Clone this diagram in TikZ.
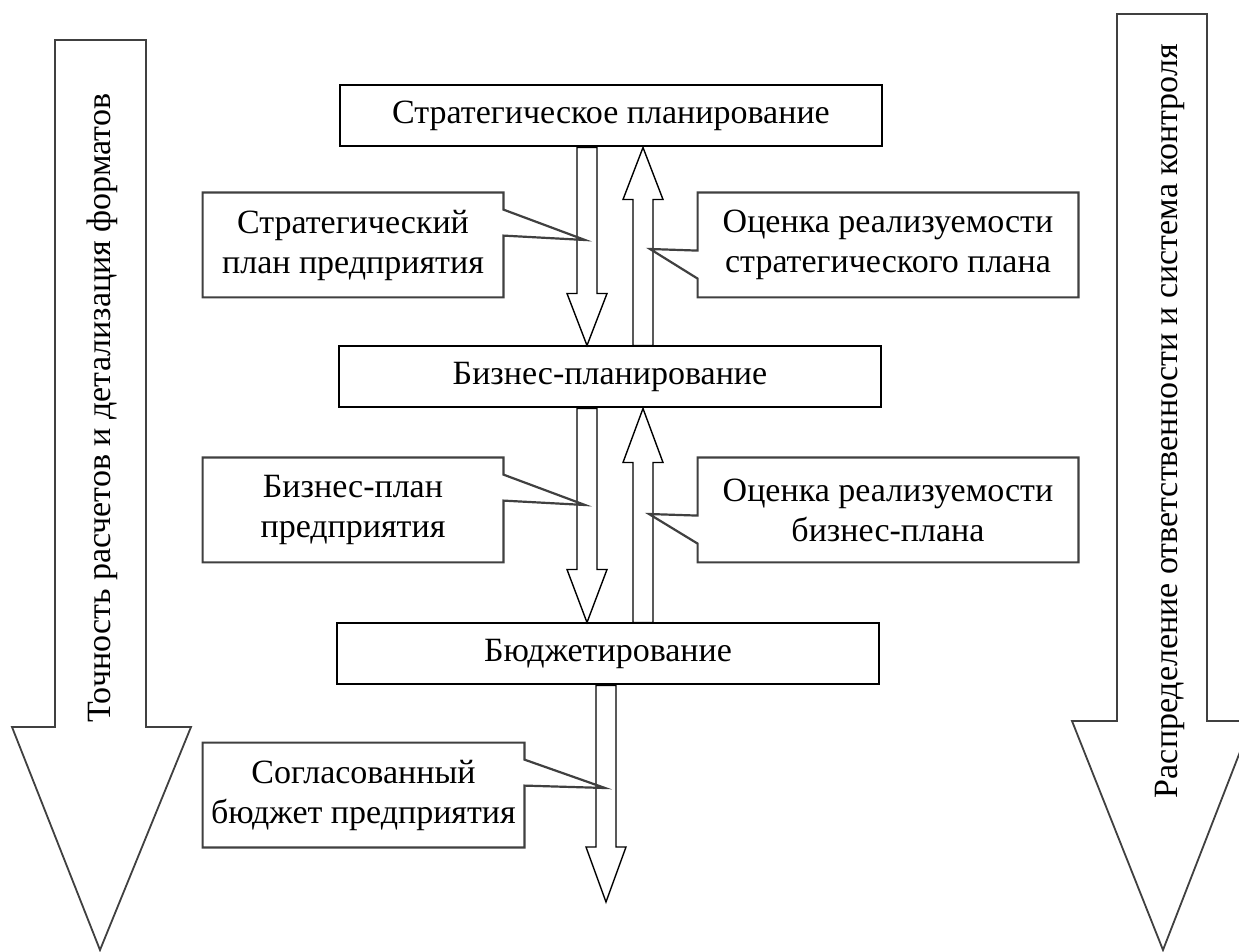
\documentclass[tikz,border=0pt]{standalone}
\usepackage{fontspec}
\setmainfont{Liberation Serif}
\usetikzlibrary{calc}
\tikzset{
  stage/.style={draw=black, line width=1.0pt, minimum width=271pt, minimum height=30.5pt, inner sep=0pt, align=center},
  note/.style={minimum height=52pt, inner sep=0pt, align=center},
  notebox/.style={draw=black!75, line width=1.1pt},
  blk/.style={draw=black, line width=0.7pt, fill=white},
  bigarrow/.style={draw=black!75, line width=0.9pt, fill=white},
  sidetext/.style={rotate=90, inner sep=0pt}
}
\newcommand\blkarrow[3]{\draw[blk] ($(#1)+(-10,0)$) -- ($(#2)+(-10,#3)$) -- ($(#2)+(-20,#3)$) -- (#2) -- ($(#2)+(20,#3)$) -- ($(#2)+(10,#3)$) -- ($(#1)+(10,0)$) -- cycle;}
\newcommand\calloutR[2]{\draw[notebox] (#1.north west) -- (#1.north east) -- ($(#1.north east)+(0,17)$) -- (#2) -- ($(#1.north east)+(0,43)$) -- (#1.south east) -- (#1.south west) -- cycle;}
\newcommand\calloutL[2]{\draw[notebox] (#1.north east) -- (#1.north west) -- ($(#1.north west)+(0,58)$) -- (#2) -- ($(#1.north west)+(0,86)$) -- (#1.south west) -- (#1.south east) -- cycle;}

\begin{document}
\begin{tikzpicture}[x=0.5pt, y=-0.5pt, font=\fontsize{17}{20}\selectfont]
  \clip (0,0) rectangle (1239,952);
  \fill[white] (0,0) rectangle (1239,952);

  \draw[bigarrow] (55,40) -- (146,40) -- (146,727) -- (191,727) -- (100,950) -- (12,727) -- (55,727) -- cycle;
  \draw[bigarrow] (1117,14) -- (1207,14) -- (1207,721) -- (1252,721) -- (1163,950) -- (1072,721) -- (1117,721) -- cycle;
  \node[sidetext] (accuracy) at (102,408) {Точность расчетов и детализация форматов};
  \node[sidetext] (control) at (1170,421) {Распределение ответственности и система контроля};

  \node[stage] (strat) at (611,116) {Стратегическое планирование};
  \node[stage] (biz) at (610,377) {Бизнес-планирование};
  \node[stage] (budget) at (608,654) {Бюджетирование};

  \coordinate (dn) at (587,0);
  \coordinate (up) at (643,0);
  \coordinate (out) at (606,902);
  \blkarrow{strat.south -| dn}{biz.north -| dn}{-52}
  \blkarrow{biz.north -| up}{strat.south -| up}{52}
  \blkarrow{biz.south -| dn}{budget.north -| dn}{-53}
  \blkarrow{budget.north -| up}{biz.south -| up}{54}
  \blkarrow{budget.south -| out}{out}{-55}

  \node[note, minimum width=150pt] (stratplan) at (353,245) {Стратегический\\план предприятия};
  \node[note, minimum width=190pt] (stratcheck) at (888,245) {Оценка реализуемости\\стратегического плана};
  \node[note, minimum width=150pt] (bizplan) at (353,510) {Бизнес-план\\предприятия};
  \node[note, minimum width=190pt] (bizcheck) at (888,510) {Оценка реализуемости\\бизнес-плана};
  \node[note, minimum width=160.5pt] (agreed) at (363.5,795) {Согласованный\\бюджет предприятия};

  \coordinate (p1) at (585,240);
  \coordinate (p2) at (650,249);
  \coordinate (p3) at (585,505);
  \coordinate (p4) at (649,514);
  \coordinate (p5) at (605,788);
  \calloutR{stratplan}{p1}
  \calloutL{stratcheck}{p2}
  \calloutR{bizplan}{p3}
  \calloutL{bizcheck}{p4}
  \calloutR{agreed}{p5}
\end{tikzpicture}
\end{document}
